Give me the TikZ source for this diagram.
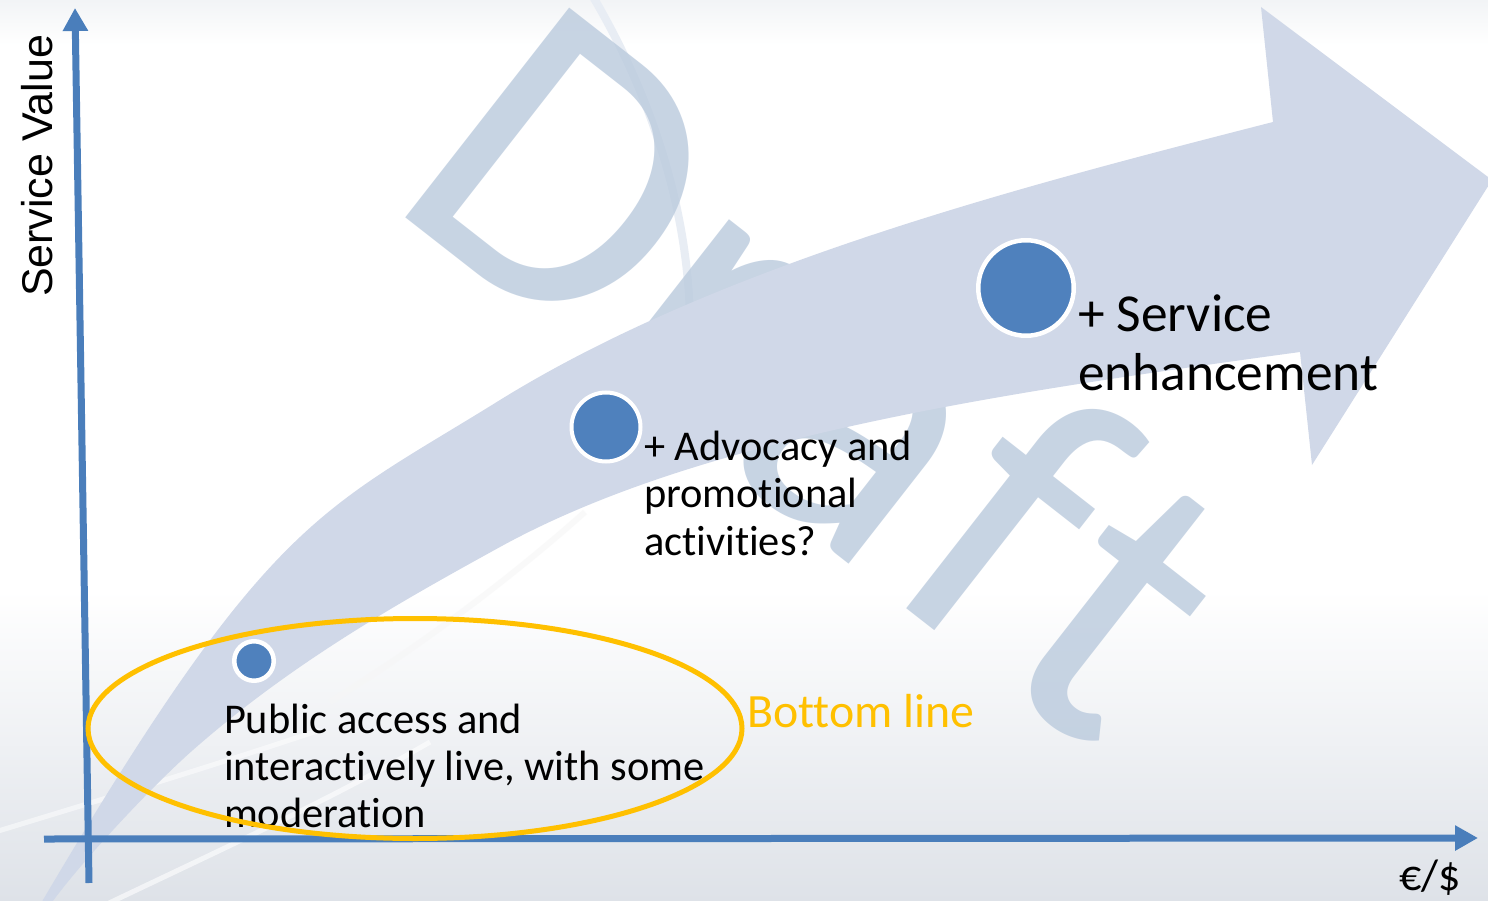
\documentclass[tikz,border=0pt]{standalone}
\usepackage{fontspec}
\setmainfont{Carlito}[Ligatures=NoCommon]
\newfontfamily\arialf{Liberation Sans}
\usetikzlibrary{arrows.meta}
\definecolor{axisblue}{HTML}{4A7EBB}
\definecolor{dotblue}{HTML}{4F81BD}
\definecolor{arrowfill}{HTML}{D0D8E8}
\definecolor{wmark}{HTML}{BACADD}
\definecolor{gold}{HTML}{FFC000}
\definecolor{bgbottom}{HTML}{DEE2E8}
\definecolor{bgtop}{HTML}{F2F4F6}
\definecolor{swoosh}{HTML}{E8EDF4}
\tikzset{
  axisline/.style={draw=axisblue, line width=7pt, -{Triangle[length=23pt,width=24pt]}},
  dot/.style={circle, fill=dotblue, draw=white, inner sep=0pt},
  lbl/.style={inner sep=0pt, outer sep=0pt, text=black, align=left},
  wmarkstyle/.style={inner sep=0pt, text=wmark, text opacity=0.8, font=\fontsize{415}{415}\selectfont},
  ring/.style={draw=gold, line width=5pt}
}
\begin{document}
\begin{tikzpicture}[x=1pt,y=-1pt]
\useasboundingbox (0,0) rectangle (1488,901);
% background
\fill[white] (0,0) rectangle (1488,901);
\shade[top color=bgtop, bottom color=white] (0,0) rectangle (1488,45);
\shade[top color=white, bottom color=bgbottom] (0,590) rectangle (1488,901);
% faint template swooshes
\draw[swoosh, line width=8pt] (592,-5) .. controls (660,110) and (692,230) .. (690,340);
\draw[white!93!gray, line width=6pt, opacity=0.6] (585,512) .. controls (520,570) and (430,640) .. (330,702);
\draw[white, line width=5pt, opacity=0.5] (-5,832) .. controls (100,800) and (200,770) .. (320,730);
\draw[white, line width=5pt, opacity=0.6] (105,905) .. controls (220,850) and (330,800) .. (430,742);
% watermark
\node[wmarkstyle, rotate=-38, anchor=base west] (wm) at (383,200) {D\kern3pt r\kern15pt a\kern13pt f\kern10pt t};
% big curved arrow
\fill[arrowfill] (40,905) .. controls (270,514) and (320,512) .. (500,400)
  .. controls (720,264) and (1023,186) .. (1273,122)
  -- (1261,7) -- (1492,180) -- (1312,465) -- (1300,352)
  .. controls (1000,393) and (700,437) .. (500,547)
  .. controls (400,602) and (293,662) .. (193,750)
  .. controls (153,785) and (80,863) .. (50,905)
  -- cycle;
% axes
\coordinate (ybot) at (89,883);
\coordinate (ytop) at (75,8);
\coordinate (xl) at (44,839);
\coordinate (xr) at (1478,838);
\draw[axisline] (ybot) -- (ytop);
\draw[axisline] (xl) -- (xr);
% labels
\node[lbl, rotate=90, anchor=base west, font=\arialf\fontsize{43}{50}\selectfont] (sv) at (52,297) {Service Value};
\node[lbl, anchor=base west, font=\fontsize{44}{50}\selectfont] (cur) at (1399,890) {€/\$};
\node[lbl, anchor=base west, font=\fontsize{42.4}{47}\selectfont] (t1) at (224,827) {Public access and\\interactively live, with some\\moderation};
\node[lbl, anchor=base west, font=\fontsize{42.4}{47.5}\selectfont] (t2) at (644,555) {+ Advocacy and\\promotional\\activities?};
\node[lbl, anchor=base west, font=\fontsize{53.4}{59}\selectfont] (t3) at (1078,390) {+ Service\\enhancement};
\node[lbl, anchor=base west, text=gold, font=\fontsize{47.8}{56}\selectfont] (bl) at (747,727) {Bottom line};
% bottom line ellipse
\draw[ring] (415,728.5) ellipse [x radius=327pt, y radius=110pt];
% dots
\node[dot, line width=4.5pt, minimum size=39.5pt] (d1) at (254,661) {};
\node[dot, line width=4pt, minimum size=69pt] (d2) at (606,427) {};
\node[dot, line width=4.5pt, minimum size=95.5pt] (d3) at (1026,288) {};
\end{tikzpicture}
\end{document}
